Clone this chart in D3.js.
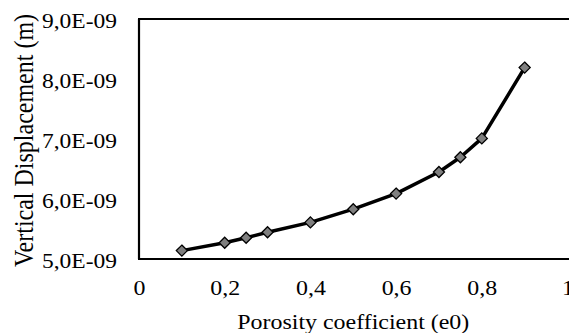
<!DOCTYPE html>
<html>
<head>
<meta charset="utf-8">
<script src="https://cdn.jsdelivr.net/npm/d3@7"></script>
<style>
  html, body { margin: 0; padding: 0; background: #fff; overflow: hidden; }
  svg { display: block; }
</style>
</head>
<body>
<svg id="chart" width="569" height="333"></svg>
<script>
// Porosity coefficient e0 vs vertical displacement (m)
const porosity = [0.1, 0.2, 0.25, 0.3, 0.4, 0.5, 0.6, 0.7, 0.75, 0.8, 0.9];
const displacement = [5.14e-9, 5.27e-9, 5.355e-9, 5.445e-9, 5.61e-9, 5.83e-9, 6.09e-9, 6.45e-9, 6.695e-9, 7.01e-9, 8.19e-9];

const xTicks = [0, 0.2, 0.4, 0.6, 0.8, 1];
const xTickLabels = ["0", "0,2", "0,4", "0,6", "0,8", "1"];
const yTicks = [5e-9, 6e-9, 7e-9, 8e-9, 9e-9];
const yTickLabels = ["5,0E-09", "6,0E-09", "7,0E-09", "8,0E-09", "9,0E-09"];

const xTitle = "Porosity coefficient (e0)";
const yTitle = "Vertical Displacement (m)";

const FONT = "'Liberation Serif', 'Times New Roman', serif";
const tickSize = 21;
const xTitleSize = 21;
const yTitleSize = 24;
const stretch = 1.14;      // text is drawn slightly wide
const yLabelWidth = 75;    // drawn width of the y tick labels

const svg = d3.select("#chart");
const W = 569, H = 333;
const plot = { left: 139, top: 19, right: 567.5, bottom: 259 };

const x = d3.scaleLinear().domain([0, 1]).range([plot.left, plot.right]);
const y = d3.scaleLinear().domain([5e-9, 9e-9]).range([plot.bottom, plot.top]);

// X axis (labels only, no tick marks)
const gx = svg.append("g")
  .attr("transform", `translate(0,${plot.bottom})`)
  .call(d3.axisBottom(x)
    .tickValues(xTicks)
    .tickSize(0)
    .tickPadding(21)
    .tickFormat((d, i) => xTickLabels[i]))
  .attr("font-family", FONT)
  .attr("font-size", tickSize);
gx.select(".domain").remove();
gx.selectAll("text")
  .attr("fill", "#000")
  .attr("transform", `scale(${stretch},1)`);

// Y axis (labels only)
const gy = svg.append("g")
  .attr("transform", `translate(${plot.left},0)`)
  .call(d3.axisLeft(y)
    .tickValues(yTicks)
    .tickSize(0)
    .tickPadding(22)
    .tickFormat((d, i) => yTickLabels[i]))
  .attr("font-family", FONT)
  .attr("font-size", tickSize);
gy.select(".domain").remove();
gy.selectAll("text")
  .attr("fill", "#000")
  .attr("dy", "0.4em")
  .attr("textLength", yLabelWidth)
  .attr("lengthAdjust", "spacingAndGlyphs");

// Plot frame: left, top and bottom edges
const frame = svg.append("g").attr("stroke", "#000").attr("stroke-width", 2.2);
frame.append("line")
  .attr("x1", plot.left).attr("x2", plot.left)
  .attr("y1", plot.top).attr("y2", plot.bottom);
frame.append("line")
  .attr("x1", plot.left - 1).attr("x2", W + 2)
  .attr("y1", plot.top).attr("y2", plot.top);
frame.append("line")
  .attr("x1", plot.left - 1).attr("x2", W + 2)
  .attr("y1", plot.bottom).attr("y2", plot.bottom);

// Series line
const pts = porosity.map((p, i) => [p, displacement[i]]);
svg.append("path")
  .datum(pts)
  .attr("fill", "none")
  .attr("stroke", "#000")
  .attr("stroke-width", 3.5)
  .attr("stroke-linejoin", "round")
  .attr("d", d3.line().x(d => x(d[0])).y(d => y(d[1])));

// Diamond markers
const diamond = d3.symbol().type(d3.symbolDiamond2).size(78);
svg.append("g")
  .selectAll("path")
  .data(pts)
  .join("path")
  .attr("transform", d => `translate(${x(d[0])},${y(d[1])})`)
  .attr("d", diamond)
  .attr("fill", "#7f7f7f")
  .attr("stroke", "#000")
  .attr("stroke-width", 1.3);

// Axis titles
svg.append("text")
  .attr("transform", `translate(${(plot.left + plot.right) / 2},328.5) scale(${stretch},1)`)
  .attr("text-anchor", "middle")
  .attr("font-family", FONT)
  .attr("font-size", xTitleSize)
  .text(xTitle);

svg.append("text")
  .attr("transform", `translate(32.5,140.5) scale(${stretch},1) rotate(-90)`)
  .attr("text-anchor", "middle")
  .attr("font-family", FONT)
  .attr("font-size", yTitleSize)
  .text(yTitle);
</script>
</body>
</html>
